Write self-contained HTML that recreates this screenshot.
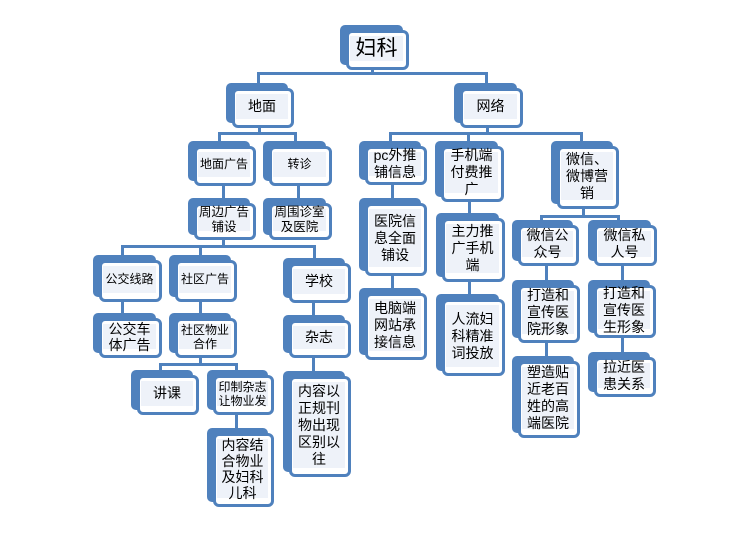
<!DOCTYPE html>
<html><head><meta charset="utf-8"><style>
html,body{margin:0;padding:0;background:#fff;width:745px;height:533px;overflow:hidden;position:relative;font-family:"Liberation Sans","Noto Sans CJK SC",sans-serif;}
.n{position:absolute;}
.b{position:absolute;left:0;top:0;right:6px;bottom:5px;background:#4f81bd;border-radius:5px;}
.f{position:absolute;left:6px;top:5px;right:0;bottom:0;background:#fff;border:3px solid #4f81bd;border-radius:6px;box-sizing:border-box;}
.f span{background:#eef2f9;display:flex;align-items:center;justify-content:center;text-align:center;position:absolute;left:1px;right:3px;top:3px;bottom:6px;font-size:14px;line-height:17px;color:#000;white-space:nowrap;}
.l{position:absolute;background:#4f81bd;}
</style></head><body>
<div class="l" style="left:371px;top:68px;width:3px;height:7px"></div>
<div class="l" style="left:257px;top:72px;width:230px;height:3px"></div>
<div class="l" style="left:257px;top:72px;width:3px;height:12px"></div>
<div class="l" style="left:485px;top:72px;width:3px;height:12px"></div>
<div class="l" style="left:258px;top:126px;width:3px;height:8px"></div>
<div class="l" style="left:218px;top:132px;width:78px;height:3px"></div>
<div class="l" style="left:218px;top:132px;width:3px;height:10px"></div>
<div class="l" style="left:294px;top:132px;width:3px;height:10px"></div>
<div class="l" style="left:486px;top:126px;width:3px;height:8px"></div>
<div class="l" style="left:389px;top:132px;width:193px;height:3px"></div>
<div class="l" style="left:389px;top:132px;width:3px;height:10px"></div>
<div class="l" style="left:467px;top:132px;width:3px;height:10px"></div>
<div class="l" style="left:580px;top:132px;width:3px;height:10px"></div>
<div class="l" style="left:222px;top:184px;width:3px;height:15px"></div>
<div class="l" style="left:297px;top:184px;width:3px;height:15px"></div>
<div class="l" style="left:391px;top:183px;width:3px;height:16px"></div>
<div class="l" style="left:391px;top:274px;width:3px;height:15px"></div>
<div class="l" style="left:468px;top:200px;width:3px;height:14px"></div>
<div class="l" style="left:468px;top:280px;width:3px;height:15px"></div>
<div class="l" style="left:582px;top:207px;width:3px;height:9px"></div>
<div class="l" style="left:540px;top:215px;width:79px;height:3px"></div>
<div class="l" style="left:540px;top:215px;width:3px;height:6px"></div>
<div class="l" style="left:617px;top:215px;width:3px;height:6px"></div>
<div class="l" style="left:545px;top:264px;width:3px;height:17px"></div>
<div class="l" style="left:545px;top:341px;width:3px;height:16px"></div>
<div class="l" style="left:621px;top:264px;width:3px;height:17px"></div>
<div class="l" style="left:621px;top:336px;width:3px;height:17px"></div>
<div class="l" style="left:222px;top:238px;width:3px;height:8px"></div>
<div class="l" style="left:121px;top:245px;width:195px;height:3px"></div>
<div class="l" style="left:121px;top:245px;width:3px;height:11px"></div>
<div class="l" style="left:199px;top:245px;width:3px;height:11px"></div>
<div class="l" style="left:313px;top:245px;width:3px;height:14px"></div>
<div class="l" style="left:121px;top:300px;width:3px;height:14px"></div>
<div class="l" style="left:199px;top:300px;width:3px;height:14px"></div>
<div class="l" style="left:312px;top:301px;width:3px;height:15px"></div>
<div class="l" style="left:312px;top:356px;width:3px;height:16px"></div>
<div class="l" style="left:199px;top:356px;width:3px;height:8px"></div>
<div class="l" style="left:159px;top:363px;width:79px;height:3px"></div>
<div class="l" style="left:159px;top:363px;width:3px;height:8px"></div>
<div class="l" style="left:235px;top:363px;width:3px;height:8px"></div>
<div class="l" style="left:235px;top:413px;width:3px;height:16px"></div>

<div class="n" style="left:340px;top:25px;width:69px;height:45px"><div class="b"></div><div class="f"><span style="font-size:21px">妇科</span></div></div>
<div class="n" style="left:226px;top:83px;width:68px;height:45px"><div class="b"></div><div class="f"><span>地面</span></div></div>
<div class="n" style="left:454px;top:83px;width:69px;height:45px"><div class="b"></div><div class="f"><span>网络</span></div></div>
<div class="n" style="left:188px;top:141px;width:68px;height:45px"><div class="b"></div><div class="f"><span style="font-size:12px">地面广告</span></div></div>
<div class="n" style="left:263px;top:141px;width:69px;height:45px"><div class="b"></div><div class="f"><span style="font-size:12px">转诊</span></div></div>
<div class="n" style="left:359px;top:141px;width:68px;height:44px"><div class="b"></div><div class="f"><span>pc外推<br>铺信息</span></div></div>
<div class="n" style="left:435px;top:141px;width:69px;height:61px"><div class="b"></div><div class="f"><span>手机端<br>付费推<br>广</span></div></div>
<div class="n" style="left:551px;top:141px;width:68px;height:68px"><div class="b"></div><div class="f"><span>微信、<br>微博营<br>销</span></div></div>
<div class="n" style="left:188px;top:198px;width:68px;height:42px"><div class="b"></div><div class="f"><span style="font-size:12.5px;line-height:15px">周边广告<br>铺设</span></div></div>
<div class="n" style="left:263px;top:198px;width:69px;height:42px"><div class="b"></div><div class="f"><span style="font-size:12.5px;line-height:15px">周围诊室<br>及医院</span></div></div>
<div class="n" style="left:359px;top:198px;width:68px;height:78px"><div class="b"></div><div class="f"><span>医院信<br>息全面<br>铺设</span></div></div>
<div class="n" style="left:359px;top:288px;width:68px;height:72px"><div class="b"></div><div class="f"><span>电脑端<br>网站承<br>接信息</span></div></div>
<div class="n" style="left:436px;top:213px;width:69px;height:69px"><div class="b"></div><div class="f"><span>主力推<br>广手机<br>端</span></div></div>
<div class="n" style="left:436px;top:294px;width:69px;height:82px"><div class="b"></div><div class="f"><span>人流妇<br>科精准<br>词投放</span></div></div>
<div class="n" style="left:512px;top:220px;width:67px;height:46px"><div class="b"></div><div class="f"><span>微信公<br>众号</span></div></div>
<div class="n" style="left:588px;top:220px;width:69px;height:46px"><div class="b"></div><div class="f"><span>微信私<br>人号</span></div></div>
<div class="n" style="left:512px;top:280px;width:68px;height:63px"><div class="b"></div><div class="f"><span>打造和<br>宣传医<br>院形象</span></div></div>
<div class="n" style="left:588px;top:280px;width:68px;height:58px"><div class="b"></div><div class="f"><span>打造和<br>宣传医<br>生形象</span></div></div>
<div class="n" style="left:512px;top:356px;width:68px;height:82px"><div class="b"></div><div class="f"><span>塑造贴<br>近老百<br>姓的高<br>端医院</span></div></div>
<div class="n" style="left:588px;top:352px;width:68px;height:45px"><div class="b"></div><div class="f"><span>拉近医<br>患关系</span></div></div>
<div class="n" style="left:93px;top:255px;width:69px;height:47px"><div class="b"></div><div class="f"><span style="font-size:12px">公交线路</span></div></div>
<div class="n" style="left:169px;top:255px;width:68px;height:47px"><div class="b"></div><div class="f"><span style="font-size:12px">社区广告</span></div></div>
<div class="n" style="left:283px;top:258px;width:68px;height:45px"><div class="b"></div><div class="f"><span>学校</span></div></div>
<div class="n" style="left:93px;top:313px;width:69px;height:45px"><div class="b"></div><div class="f"><span style="line-height:16px">公交车<br>体广告</span></div></div>
<div class="n" style="left:169px;top:313px;width:68px;height:45px"><div class="b"></div><div class="f"><span style="font-size:12px;line-height:14px">社区物业<br>合作</span></div></div>
<div class="n" style="left:283px;top:315px;width:68px;height:43px"><div class="b"></div><div class="f"><span>杂志</span></div></div>
<div class="n" style="left:131px;top:370px;width:68px;height:45px"><div class="b"></div><div class="f"><span>讲课</span></div></div>
<div class="n" style="left:207px;top:370px;width:67px;height:45px"><div class="b"></div><div class="f"><span style="font-size:12px;line-height:14px">印制杂志<br>让物业发</span></div></div>
<div class="n" style="left:207px;top:428px;width:67px;height:79px"><div class="b"></div><div class="f"><span style="line-height:16px">内容结<br>合物业<br>及妇科<br>儿科</span></div></div>
<div class="n" style="left:283px;top:371px;width:68px;height:106px"><div class="b"></div><div class="f"><span style="line-height:17px">内容以<br>正规刊<br>物出现<br>区别以<br>往</span></div></div>
</body></html>
